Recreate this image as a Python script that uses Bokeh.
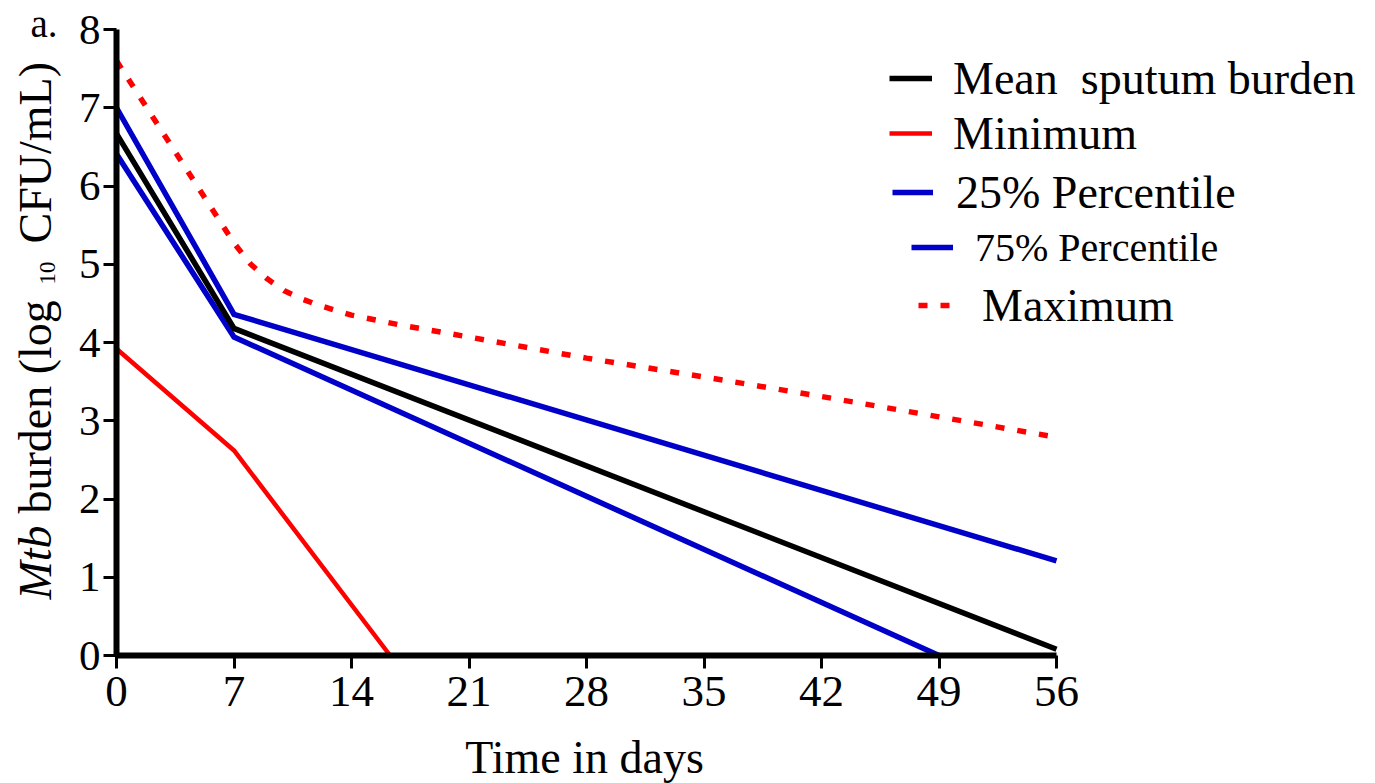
import math
from bokeh.plotting import figure
from bokeh.models import (Range1d, FixedTicker, Label, Legend, LegendItem)
from bokeh.embed import file_html
from bokeh.resources import INLINE

# ---------------- data ----------------
days_mean = [0, 7, 56]
mean_vals = [6.67, 4.18, 0.08]

days_min = [0, 7, 16.3]
min_vals = [3.92, 2.62, 0.0]

days_p25 = [0, 7, 49]
p25_vals = [6.41, 4.07, 0.0]

days_p75 = [0, 7, 56]
p75_vals = [7.0, 4.36, 1.21]

days_max = [0, 7, 8, 9, 10, 11, 12, 14, 17, 21, 28, 35, 42, 49, 56]
max_vals = [7.60, 5.27, 5.00, 4.81, 4.66, 4.56, 4.48, 4.35, 4.22, 4.07, 3.80, 3.56, 3.31, 3.05, 2.79]

x_ticks = [0, 7, 14, 21, 28, 35, 42, 49, 56]
y_ticks = [0, 1, 2, 3, 4, 5, 6, 7, 8]

legend_labels = ["Mean  sputum burden", "Minimum", "25% Percentile",
                 "75% Percentile", "Maximum"]

# ---------------- layout ----------------
FONT = "Liberation Serif"
W, H = 1375, 783
FL, FR, FT, FB = 116, 1056, 29, 655   # axis box (x 0..56, y 0..8) in canvas px
X_MAX, Y_MAX = 56, 8
BASE_SHIFT = 0.33                     # label anchor vs. drawn baseline (em)


def px_to_x(px):
    return (px - FL) * X_MAX / (FR - FL)


def px_to_y(py):
    return (FB - py) * Y_MAX / (FB - FT)


# the plotting frame covers the whole canvas; axes are pinned at 0
p = figure(width=W, height=H, output_backend="svg", toolbar_location=None,
           x_range=Range1d(px_to_x(0), px_to_x(W)),
           y_range=Range1d(px_to_y(H), px_to_y(0)),
           min_border=0)
p.outline_line_color = None
p.xgrid.visible = False
p.ygrid.visible = False
p.background_fill_color = "white"
p.border_fill_color = "white"

for ax in (p.xaxis, p.yaxis):
    ax.fixed_location = 0
    ax.axis_line_width = 6
    ax.axis_line_color = "black"
    ax.major_tick_line_width = 3
    ax.major_tick_line_color = "black"
    ax.major_tick_out = 13
    ax.major_tick_in = 0
    ax.minor_tick_line_color = None
    ax.major_label_text_font = FONT
    ax.major_label_text_color = "black"
    ax.axis_label = None
p.xaxis.ticker = FixedTicker(ticks=x_ticks)
p.yaxis.ticker = FixedTicker(ticks=y_ticks)
p.xaxis.bounds = (0, X_MAX)
p.yaxis.bounds = (0, Y_MAX)
p.xaxis.major_label_text_font_size = "45px"
p.yaxis.major_label_text_font_size = "43px"
p.xaxis.major_label_standoff = 8
p.yaxis.major_label_standoff = 3

# ---------------- series ----------------
BLUE = "#0000C8"
RED = "#FF0000"
r_max = p.line(days_max, max_vals, line_color=RED, line_width=5.5,
               line_dash="9 13")
r_min = p.line(days_min, min_vals, line_color=RED, line_width=4.5)
r_p75 = p.line(days_p75, p75_vals, line_color=BLUE, line_width=5.5, line_join="miter")
r_p25 = p.line(days_p25, p25_vals, line_color=BLUE, line_width=5.5, line_join="miter")
r_mean = p.line(days_mean, mean_vals, line_color="black", line_width=5.5, line_join="miter")

# ---------------- legends (one per row, as in the reference) ----------------
rows = [
    # renderer, label, glyph left px, row centre px, glyph width, standoff, font px
    (r_mean, legend_labels[0], 889, 78, 43, 21, 46),
    (r_min, legend_labels[1], 889, 133, 43, 21, 46),
    (r_p25, legend_labels[2], 892, 192, 41, 23, 46),
    (r_p75, legend_labels[3], 911, 247, 42, 22, 40),
    (r_max, legend_labels[4], 918, 305, 34, 30, 46),
]
ITEM_H = 56
for rend, lab, gx, cy, gw, so, fs in rows:
    lg = Legend(items=[LegendItem(label=lab, renderers=[rend])],
                location=(gx, H - (cy + ITEM_H / 2)),
                margin=0, padding=0, spacing=0,
                glyph_width=gw, glyph_height=ITEM_H, label_height=ITEM_H,
                label_standoff=so,
                label_text_font=FONT, label_text_font_size=f"{fs}px",
                label_text_color="black",
                border_line_color=None, background_fill_alpha=0)
    p.add_layout(lg)

# ---------------- texts ----------------
# x-axis title (baseline at 772 px)
p.add_layout(Label(x=px_to_x(584), y=px_to_y(772 - BASE_SHIFT * 46),
                   text="Time in days",
                   text_font=FONT, text_font_size="46px", text_color="black",
                   text_align="center", text_baseline="alphabetic"))

# panel letter (baseline at 35 px)
p.add_layout(Label(x=px_to_x(30), y=px_to_y(36 - BASE_SHIFT * 39), text="a.",
                   text_font=FONT, text_font_size="39px", text_color="black",
                   text_align="left", text_baseline="alphabetic"))

# y-axis title, assembled from pieces (italic Mtb, subscript 10)
# text, start (bottom) px, baseline x px, font px, style
y_pieces = [
    ("Mtb", 599, 50, 46, "italic"),
    ("burden (log", 513, 50, 46, "normal"),
    ("10", 284, 55, 23, "normal"),
    ("CFU/mL)", 243, 50, 46, "normal"),
]
for txt, start_py, base_px, fs, style in y_pieces:
    p.add_layout(Label(x=px_to_x(base_px - BASE_SHIFT * fs), y=px_to_y(start_py),
                       text=txt, angle=math.pi / 2, text_font=FONT,
                       text_font_size=f"{fs}px", text_font_style=style,
                       text_color="black", text_align="left",
                       text_baseline="alphabetic"))

open("out.html", "w").write(file_html(p, INLINE))
